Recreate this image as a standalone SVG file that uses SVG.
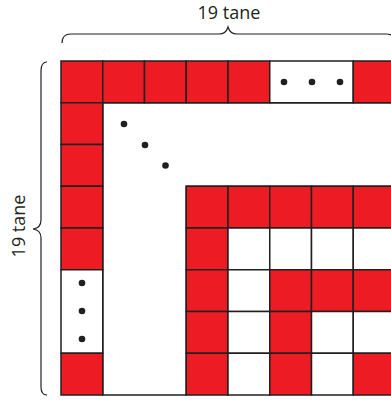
<svg xmlns="http://www.w3.org/2000/svg" width="391" height="400" viewBox="0 0 391 400">
<style>
.r{fill:#ed1c24;stroke:#231f20;stroke-width:1.5}
.w{fill:#ffffff;stroke:#231f20;stroke-width:1.5}
.d{fill:#231f20}
.b{fill:none;stroke:#231f20;stroke-width:1.2}
.t{font-family:"Open Sans",sans-serif;font-size:18px;fill:#231f20;text-anchor:middle}
</style>
<rect width="391" height="400" fill="#ffffff"/>
<g id="connectors">
<path class="b" d="M62,43 Q62,34 71,34 L219,34 Q226,34 228,27 Q230,34 237,34 L386,34 Q395,34 395,43"/>
<path class="b" d="M47,62 Q41,62 41,71 L41,220 Q41,228 33,229 Q41,230 41,238 L41,387 Q41,395 47,395"/>
</g>
<g id="label-top"><text class="t" x="229" y="19">19 tane</text></g>
<g id="label-left"><text class="t" transform="translate(25,226) rotate(-90)">19 tane</text></g>
<g id="white-region">
<path class="w" d="M102.75,102.75 H395 V186.25 H186.25 V395 H102.75 Z"/>
</g>
<g id="top-row">
<rect class="r" x="61" y="61" width="41.75" height="41.75"/>
<rect class="r" x="102.75" y="61" width="41.75" height="41.75"/>
<rect class="r" x="144.5" y="61" width="41.75" height="41.75"/>
<rect class="r" x="186.25" y="61" width="41.75" height="41.75"/>
<rect class="r" x="228" y="61" width="41.75" height="41.75"/>
<rect class="w" x="269.75" y="61" width="83.5" height="41.75"/>
<rect class="r" x="353.25" y="61" width="41.75" height="41.75"/>
<circle class="d" cx="284" cy="82" r="3.3"/>
<circle class="d" cx="312" cy="82" r="3.3"/>
<circle class="d" cx="340" cy="82" r="3.3"/>
</g>
<g id="left-column">
<rect class="r" x="61" y="102.75" width="41.75" height="41.75"/>
<rect class="r" x="61" y="144.5" width="41.75" height="41.75"/>
<rect class="r" x="61" y="186.25" width="41.75" height="41.75"/>
<rect class="r" x="61" y="228" width="41.75" height="41.75"/>
<rect class="w" x="61" y="269.75" width="41.75" height="83.5"/>
<rect class="r" x="61" y="353.25" width="41.75" height="41.75"/>
<circle class="d" cx="82" cy="283" r="3.3"/>
<circle class="d" cx="82" cy="311" r="3.3"/>
<circle class="d" cx="82" cy="339" r="3.3"/>
</g>
<g id="diagonal-dots">
<circle class="d" cx="124" cy="124" r="3.3"/>
<circle class="d" cx="145" cy="145" r="3.3"/>
<circle class="d" cx="165.5" cy="165.5" r="3.3"/>
</g>
<g id="inner-grid">
<rect class="r" x="186.25" y="186.25" width="41.75" height="41.75"/>
<rect class="r" x="228" y="186.25" width="41.75" height="41.75"/>
<rect class="r" x="269.75" y="186.25" width="41.75" height="41.75"/>
<rect class="r" x="311.5" y="186.25" width="41.75" height="41.75"/>
<rect class="r" x="353.25" y="186.25" width="41.75" height="41.75"/>
<rect class="r" x="186.25" y="228" width="41.75" height="41.75"/>
<rect class="w" x="228" y="228" width="41.75" height="41.75"/>
<rect class="w" x="269.75" y="228" width="41.75" height="41.75"/>
<rect class="w" x="311.5" y="228" width="41.75" height="41.75"/>
<rect class="w" x="353.25" y="228" width="41.75" height="41.75"/>
<rect class="r" x="186.25" y="269.75" width="41.75" height="41.75"/>
<rect class="w" x="228" y="269.75" width="41.75" height="41.75"/>
<rect class="r" x="269.75" y="269.75" width="41.75" height="41.75"/>
<rect class="r" x="311.5" y="269.75" width="41.75" height="41.75"/>
<rect class="r" x="353.25" y="269.75" width="41.75" height="41.75"/>
<rect class="r" x="186.25" y="311.5" width="41.75" height="41.75"/>
<rect class="w" x="228" y="311.5" width="41.75" height="41.75"/>
<rect class="r" x="269.75" y="311.5" width="41.75" height="41.75"/>
<rect class="w" x="311.5" y="311.5" width="41.75" height="41.75"/>
<rect class="w" x="353.25" y="311.5" width="41.75" height="41.75"/>
<rect class="r" x="186.25" y="353.25" width="41.75" height="41.75"/>
<rect class="w" x="228" y="353.25" width="41.75" height="41.75"/>
<rect class="r" x="269.75" y="353.25" width="41.75" height="41.75"/>
<rect class="w" x="311.5" y="353.25" width="41.75" height="41.75"/>
<rect class="r" x="353.25" y="353.25" width="41.75" height="41.75"/>
</g>
</svg>
